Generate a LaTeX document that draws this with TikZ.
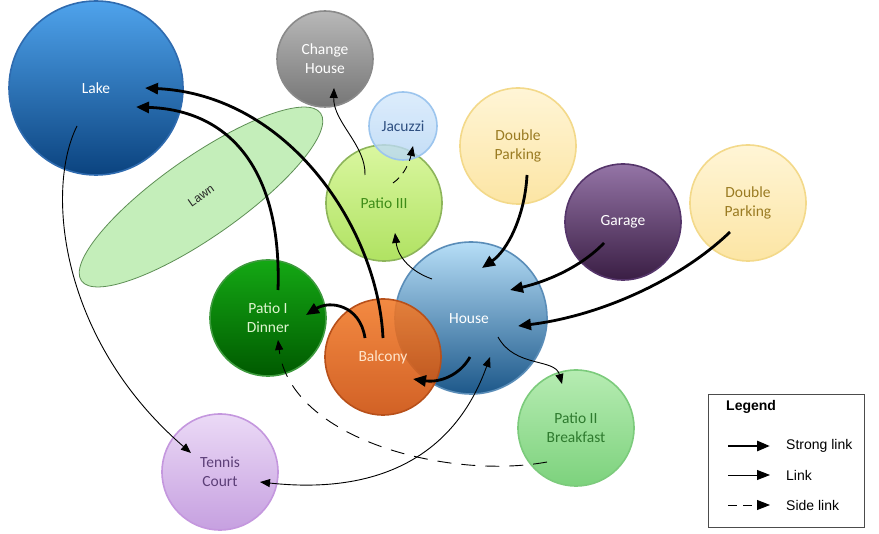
\documentclass[tikz,border=0pt]{standalone}
\usepackage{fontspec}
\setmainfont{Carlito}
\newfontfamily\arialf{Liberation Sans}
\usetikzlibrary{arrows.meta}
\definecolor{lakeT}{HTML}{4FA3EC}\definecolor{lakeB}{HTML}{0B437F}\definecolor{lakeD}{HTML}{2F6BAF}
\definecolor{chT}{HTML}{B8B8B8}\definecolor{chB}{HTML}{767676}\definecolor{chD}{HTML}{8A8A8A}
\definecolor{jaT}{HTML}{D4E8FB}\definecolor{jaB}{HTML}{B6D6F5}\definecolor{jaD}{HTML}{9CC5EE}\definecolor{jaX}{HTML}{2E4F80}
\definecolor{p3T}{HTML}{DAF7A0}\definecolor{p3B}{HTML}{B0E262}\definecolor{p3D}{HTML}{8DB55A}\definecolor{p3X}{HTML}{3E8C18}
\definecolor{dpT}{HTML}{FFF5D6}\definecolor{dpB}{HTML}{FCE5A4}\definecolor{dpD}{HTML}{F3D98A}\definecolor{dpX}{HTML}{9A7B22}
\definecolor{gaT}{HTML}{9474A6}\definecolor{gaB}{HTML}{3A1E44}\definecolor{gaD}{HTML}{55356A}
\definecolor{hoT}{HTML}{B6DEF7}\definecolor{hoB}{HTML}{1D588A}\definecolor{hoD}{HTML}{5A8DB8}
\definecolor{p1T}{HTML}{14A814}\definecolor{p1B}{HTML}{005A00}\definecolor{p1D}{HTML}{3E9A3E}\definecolor{p1X}{HTML}{DFF5D0}
\definecolor{baT}{HTML}{F27A28}\definecolor{baB}{HTML}{CC4C08}\definecolor{baD}{HTML}{B8501A}\definecolor{baX}{HTML}{FFE6CC}
\definecolor{p2T}{HTML}{B6ECB2}\definecolor{p2B}{HTML}{7DD27D}\definecolor{p2D}{HTML}{7CCB7C}\definecolor{p2X}{HTML}{2E7A2E}
\definecolor{tcT}{HTML}{EBDAF6}\definecolor{tcB}{HTML}{C6A0E0}\definecolor{tcD}{HTML}{C497DE}\definecolor{tcX}{HTML}{5C3F78}
\definecolor{lwF}{HTML}{C4EEBA}\definecolor{lwD}{HTML}{5E8F55}
\begin{document}
\begin{tikzpicture}[x=1pt,y=-1pt,
  bub/.style={circle, minimum size=#1, inner sep=0pt, align=center, line width=1.6pt,
              font=\fontsize{15.5}{19}\selectfont},
  strong/.style={line width=2.8pt, -{Triangle[length=13pt,width=11pt]}},
  lnk/.style={line width=0.9pt, -{Triangle[length=10pt,width=8pt]}},
  side/.style={line width=0.9pt, dash pattern=on 14pt off 10pt, -{Triangle[length=10pt,width=8pt]}},
  legtxt/.style={font=\arialf\fontsize{14}{16}\selectfont, anchor=west, inner sep=0pt}]
\useasboundingbox (0,0) rectangle (879,534);
\fill[white] (0,0) rectangle (879,534);

% Lawn
\draw[fill=lwF, draw=lwD, line width=0.8pt, rotate around={35:(201,197)}] (201,197) ellipse [x radius=146pt, y radius=40pt];
\node[font=\arialf\fontsize{12}{14}\selectfont, text=black!85, rotate=35, inner sep=0pt] (lawn) at (201,196) {Lawn};

% bubbles
\node[bub=174pt, draw=lakeD, top color=lakeT, bottom color=lakeB, text=white] (lake) at (96,88) {Lake};
\node[bub=96pt, draw=chD, top color=chT, bottom color=chB, text=white] (change) at (325,59) {Change\\House};
\node[bub=116pt, draw=p3D, top color=p3T, bottom color=p3B, text=p3X] (patio3) at (384,203) {Patio III};
\node[bub=68pt, draw=jaD, top color=jaT, bottom color=jaB, text=jaX, fill opacity=0.8, text opacity=1] (jacuzzi) at (403,126) {Jacuzzi};
\node[bub=116pt, draw=dpD, top color=dpT, bottom color=dpB, text=dpX] (dp1) at (518,146) {Double\\Parking};
\node[bub=116pt, draw=gaD, top color=gaT, bottom color=gaB, text=white] (garage) at (623,222) {Garage};
\node[bub=116pt, draw=dpD, top color=dpT, bottom color=dpB, text=dpX] (dp2) at (748,203) {Double\\Parking};
\node[bub=152pt, draw=hoD, top color=hoT, bottom color=hoB, text=white] (house) at (471,318) {};
\node[bub=116pt, draw=p1D, top color=p1T, bottom color=p1B, text=p1X] (patio1) at (268,318) {Patio I\\Dinner};
\node[bub=116pt, draw=baD, top color=baT, bottom color=baB, text=baX, fill opacity=0.88, text opacity=1] (balcony) at (383,357) {Balcony};
\node[font=\fontsize{15.5}{19}\selectfont, text=white] (housetxt) at (469,319) {House};
\node[bub=116pt, draw=p2D, top color=p2T, bottom color=p2B, text=p2X] (patio2) at (576,428) {Patio II\\Breakfast};
\node[bub=116pt, draw=tcD, top color=tcT, bottom color=tcB, text=tcX] (tennis) at (220,472) {Tennis\\Court};

% connector end points
\coordinate (baS) at (383,338); \coordinate (lakeA) at (145,88);
\coordinate (p1S) at (278,290); \coordinate (lakeB) at (136,107);
\coordinate (dp1S) at (527,175); \coordinate (hoA) at (482,268);
\coordinate (gaS) at (604,243); \coordinate (hoB) at (510,290);
\coordinate (dp2S) at (730,232); \coordinate (hoC) at (518,326);
\coordinate (baS2) at (365,338); \coordinate (p1A) at (306,315);
\coordinate (hoS) at (470,357); \coordinate (baA) at (413,379);
\coordinate (lakeS) at (77,126); \coordinate (tcA) at (191,453);
\coordinate (tcB2) at (260,482); \coordinate (hoD2) at (490,357);
\coordinate (p3S) at (365,175); \coordinate (chA) at (334,88);
\coordinate (hoS2) at (432,279); \coordinate (p3A) at (395,233);
\coordinate (hoS3) at (498,337); \coordinate (p2A) at (562,384);
\coordinate (p2S) at (547,462); \coordinate (p1B) at (278,340);
\coordinate (p3S2) at (393,183); \coordinate (jaA) at (413,146);

% strong links
\draw[strong] (baS) .. controls (378,230) and (290,95) .. (lakeA);
\draw[strong] (p1S) .. controls (282,170) and (230,110) .. (lakeB);
\draw[strong] (dp1S) .. controls (525,215) and (508,250) .. (hoA);
\draw[strong] (gaS) .. controls (580,268) and (545,282) .. (hoB);
\draw[strong] (dp2S) .. controls (680,280) and (600,316) .. (hoC);
\draw[strong] (baS2) .. controls (360,305) and (330,300) .. (p1A);
\draw[strong] (hoS) .. controls (460,375) and (440,383) .. (baA);

% links
\draw[lnk] (lakeS) .. controls (45,190) and (60,340) .. (tcA);
\draw[lnk, {Triangle[length=10pt,width=8pt]}-{Triangle[length=10pt,width=8pt]}] (tcB2) .. controls (380,495) and (455,455) .. (hoD2);
\draw[lnk] (p3S) .. controls (366,145) and (333,122) .. (chA);
\draw[lnk] (hoS2) .. controls (412,272) and (398,258) .. (p3A);
\draw[lnk] (hoS3) .. controls (515,368) and (555,358) .. (p2A);

% side links
\draw[side] (p2S) .. controls (450,480) and (290,440) .. (p1B);
\draw[side, dash pattern=on 8pt off 6pt] (p3S2) .. controls (405,175) and (410,160) .. (jaA);

% legend
\node[draw=black!70, line width=1pt, minimum width=156pt, minimum height=133pt, inner sep=0pt] (legend) at (786,461.5) {};
\node[font=\arialf\bfseries\fontsize{14}{16}\selectfont, anchor=west, inner sep=0pt] (legtitle) at (726,407) {Legend};
\node[legtxt] (l1) at (786,446) {Strong link};
\node[legtxt] (l2) at (786,475) {Link};
\node[legtxt] (l3) at (786,505) {Side link};
\coordinate (a1s) at (728,446); \coordinate (a1e) at (770,446);
\coordinate (a2s) at (728,475); \coordinate (a2e) at (770,475);
\coordinate (a3s) at (728,505); \coordinate (a3e) at (770,505);
\draw[strong, -{Triangle[length=13pt,width=10pt]}] (a1s) -- (a1e);
\draw[lnk, -{Triangle[length=13pt,width=10pt]}] (a2s) -- (a2e);
\draw[side, dash pattern=on 9pt off 6pt, -{Triangle[length=13pt,width=10pt]}] (a3s) -- (a3e);
\end{tikzpicture}
\end{document}
